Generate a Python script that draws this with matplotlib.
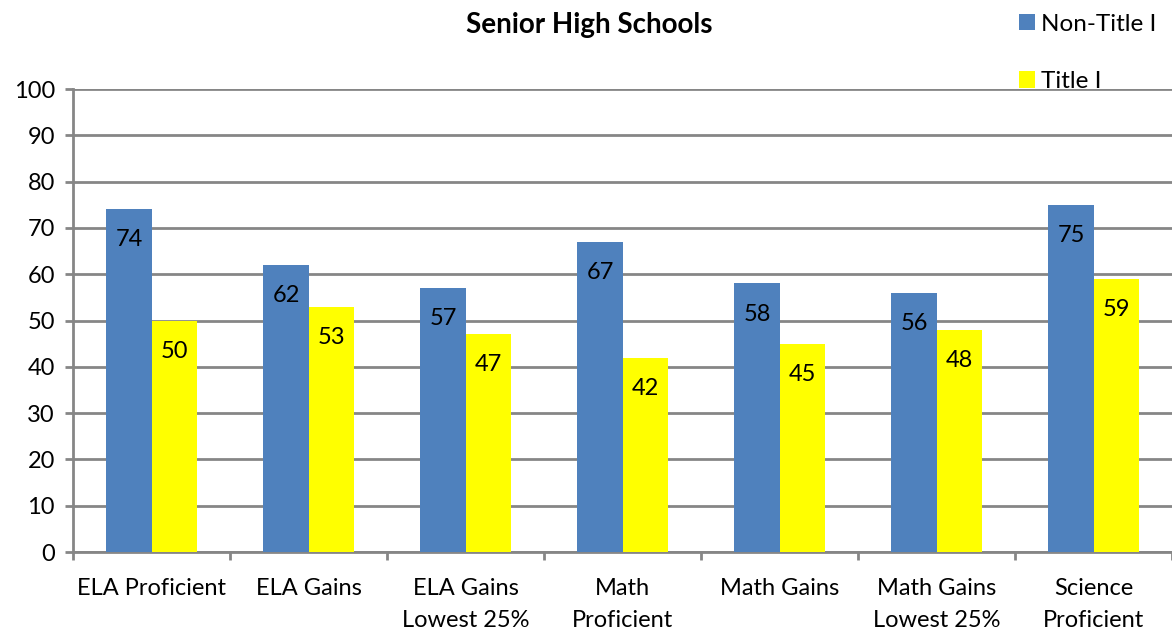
import matplotlib
matplotlib.use("Agg")
import matplotlib.pyplot as plt
import numpy as np

# chart data
categories = ["ELA Proficient", "ELA Gains", "ELA Gains\nLowest 25%", "Math\nProficient",
              "Math Gains", "Math Gains\nLowest 25%", "Science\nProficient"]
non_title = [74, 62, 57, 67, 58, 56, 75]
title_one = [50, 53, 47, 42, 45, 48, 59]
yticks = list(range(0, 101, 10))

plt.rcParams['font.family'] = ['Lato', 'DejaVu Sans']

fig = plt.figure(figsize=(11.72, 6.34), dpi=100)
ax = fig.add_axes([0.0623, 0.1293, 0.9377, 0.7303])

x = np.arange(len(categories))
w = 0.287
b1 = ax.bar(x - w/2, non_title, w, color="#4F81BD", label="Non-Title I", zorder=3)
b2 = ax.bar(x + w/2, title_one, w, color="#FFFF00", label="Title I", zorder=3)

for bars in (b1, b2):
    for r in bars:
        ax.annotate("%d" % r.get_height(), (r.get_x() + r.get_width()/2, r.get_height()),
                    xytext=(0, -22), textcoords="offset points", ha="center", va="center",
                    fontsize=17, zorder=4)

ax.set_xlim(-0.5, len(categories) - 0.5)
ax.set_ylim(0, 100)
ax.set_yticks(yticks)
ax.tick_params(axis="y", labelsize=17, length=6, width=2, color="#868686", pad=7)
ax.yaxis.grid(True, color="#868686", linewidth=2, zorder=0)

# category boundary ticks, labels at centers
ax.set_xticks(np.arange(len(categories) + 1) - 0.5)
ax.set_xticklabels([])
ax.set_xticks(x, minor=True)
ax.set_xticklabels(categories, minor=True, fontsize=17, linespacing=1.6)
ax.tick_params(axis="x", which="major", length=6, width=2, color="#868686", direction="out")
ax.tick_params(axis="x", which="minor", length=0, pad=19)

for s in ["top", "right"]:
    ax.spines[s].set_visible(False)
for s in ["left", "bottom"]:
    ax.spines[s].set_color("#868686")
    ax.spines[s].set_linewidth(2)

fig.text(0.503, 0.96, "Senior High Schools", ha="center", va="center", fontsize=20, fontweight="bold")

leg = fig.legend(handles=[b1, b2], loc="upper left", bbox_to_anchor=(0.851, 1.013), frameon=False,
                 fontsize=17.5, handlelength=0.65, handleheight=0.65, handletextpad=0.25, labelspacing=1.5)

fig.savefig("out.png", dpi=100)
